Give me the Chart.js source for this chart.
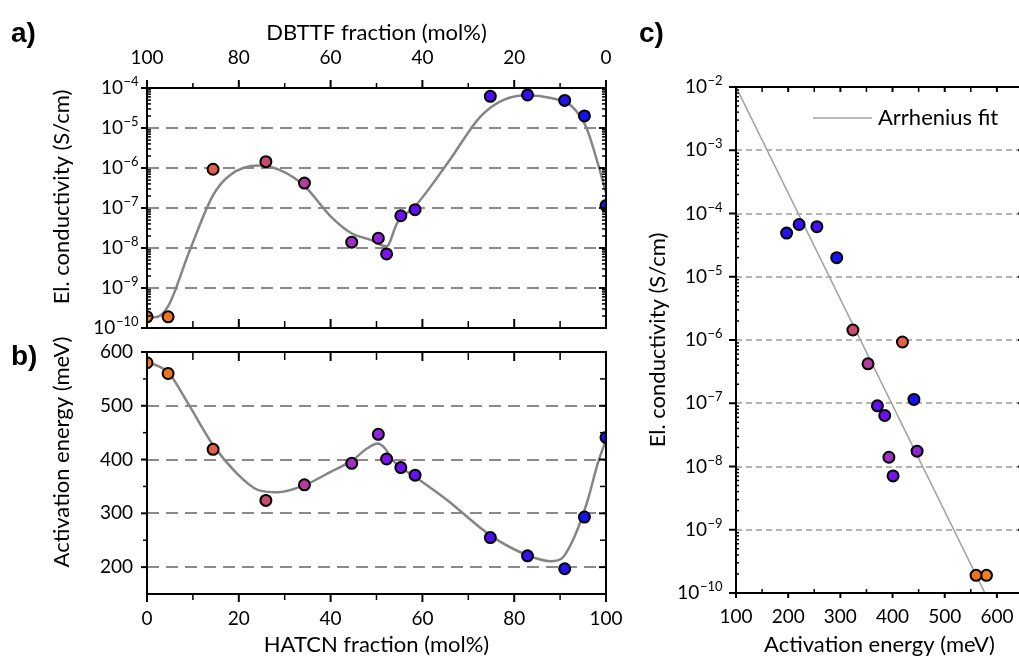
<!DOCTYPE html>
<html>
<head>
<meta charset="utf-8">
<script src="https://cdn.jsdelivr.net/npm/chart.js@4.4.1/dist/chart.umd.min.js"></script>
<style>
html,body{margin:0;padding:0;background:#fff;overflow:hidden;width:1019px;height:662px;position:relative}
canvas{position:absolute}
.lab{position:absolute;font:bold 28px "Liberation Sans",Arial,sans-serif;line-height:28px;color:#000}
</style>
</head>
<body>
<canvas id="ca" width="640" height="340" style="left:0;top:0"></canvas>
<canvas id="cb" width="640" height="372" style="left:0;top:290px"></canvas>
<canvas id="cc" width="400" height="662" style="left:640px;top:0"></canvas>
<div class="lab" style="left:11px;top:19px">a)</div>
<div class="lab" style="left:11px;top:342px">b)</div>
<div class="lab" style="left:639px;top:19px">c)</div>
<script>
// ---------------- data ----------------
const hatcnFraction = [0, 4.6, 14.4, 25.9, 34.3, 44.6, 50.4, 52.2, 55.3, 58.4, 74.8, 82.9, 91.0, 95.3, 100];
const conductivity = [1.9e-10, 1.9e-10, 9.3e-7, 1.44e-6, 4.2e-7, 1.4e-8, 1.75e-8, 7.1e-9, 6.4e-8, 9.1e-8, 6.2e-5, 6.7e-5, 4.9e-5, 2.0e-5, 1.15e-7];
const activationEnergy = [580, 560, 419, 324, 353, 393, 447, 401, 385, 371, 255, 221, 197, 293, 441];

// smooth guide curves
const curveAx = [0, 1.8, 4.6, 9.1, 14.4, 18.2, 24.4, 29.1, 34.25, 40, 44.65, 48.7, 52.2, 54.5, 58.4, 65.5, 72.7, 77.8, 82.9, 88, 92.4, 95.6, 98.2, 100];
const curveAy = [1.9e-10, 1.85e-10, 3.5e-10, 7.5e-9, 2.1e-7, 6.8e-7, 1.15e-6, 8.7e-7, 3.6e-7, 6.2e-8, 2.3e-8, 1.6e-8, 1.1e-8, 4.2e-8, 1.1e-7, 1.33e-6, 1.95e-5, 5.1e-5, 6.6e-5, 5.6e-5, 3.6e-5, 1.1e-5, 1.33e-6, 2.4e-7];
const curveBx = [0, 4.6, 9.1, 14.4, 19.6, 24, 28.4, 34.25, 40, 44.65, 48, 50.2, 51.6, 53.8, 58.4, 65.5, 74.8, 82.9, 88, 90.2, 93.1, 96, 98.2, 100];
const curveBy = [582, 562, 502, 427, 374, 344, 339, 352, 377, 398, 421, 430, 423, 396, 368, 324, 259, 222, 211, 215, 256, 324, 393, 436];

// Arrhenius fit line (panel c)
const fitEnergy = [100, 577];
const fitConductivity = [1e-2, 1e-10];

// tick labels
const hatcnTicks = [0, 20, 40, 60, 80, 100];
const dbttfTicks = [100, 80, 60, 40, 20, 0];
const condTicksA = [1e-10, 1e-9, 1e-8, 1e-7, 1e-6, 1e-5, 1e-4];
const eaTicksB = [200, 300, 400, 500, 600];
const condTicksC = [1e-10, 1e-9, 1e-8, 1e-7, 1e-6, 1e-5, 1e-4, 1e-3, 1e-2];
const eaTicksC = [100, 200, 300, 400, 500, 600];

// styles
const pointColors = ['#f28022', '#f07420', '#e0604a', '#c84a6e', '#b43c9c', '#a030c0', '#9024d6', '#7e12ec', '#7010f0', '#6410f0', '#4a10f2', '#3410f2', '#2212f0', '#1414f0', '#1414f0'];
const FONT = 'Lato, "Open Sans", sans-serif';

// ---------------- helpers ----------------
function logMinors(lo, hi) {
  const out = [];
  for (let e = lo; e < hi; e++) for (let k = 2; k <= 9; k++) out.push(k * Math.pow(10, e));
  return out;
}
function pts(xs, ys) { return xs.map((x, i) => ({x: x, y: ys[i]})); }

const framePlugin = {
  id: 'frame',
  beforeDatasetsDraw(chart, args, o) {
    const ctx = chart.ctx, a = chart.chartArea;
    ctx.save();
    (o.grids || []).forEach(g => {
      const s = chart.scales[g.scale];
      ctx.strokeStyle = g.color; ctx.lineWidth = g.width; ctx.setLineDash(g.dash);
      g.values.forEach(v => {
        const p = Math.round(s.getPixelForValue(v));
        ctx.beginPath();
        if (s.isHorizontal()) { ctx.moveTo(p, a.top); ctx.lineTo(p, a.bottom); }
        else { ctx.moveTo(a.left, p); ctx.lineTo(a.right, p); }
        ctx.stroke();
      });
    });
    ctx.restore();
  },
  afterDatasetsDraw(chart, args, o) {
    const ctx = chart.ctx, a = chart.chartArea;
    ctx.save();
    ctx.setLineDash([]);
    ctx.strokeStyle = '#000';
    (o.ticks || []).forEach(t => {
      const s = chart.scales[t.scale];
      const draw = (vals, len, lw) => vals.forEach(v => {
        const p = s.getPixelForValue(v);
        ctx.lineWidth = lw;
        ctx.beginPath();
        if (t.side === 'top') { ctx.moveTo(p, a.top); ctx.lineTo(p, a.top - len); }
        else if (t.side === 'bottom') { ctx.moveTo(p, a.bottom); ctx.lineTo(p, a.bottom + len); }
        else if (t.side === 'left') { ctx.moveTo(a.left, p); ctx.lineTo(a.left - len, p); }
        else { ctx.moveTo(a.right, p); ctx.lineTo(a.right + len, p); }
        ctx.stroke();
      });
      draw(t.major, t.majorLen, 2);
      draw(t.minor || [], t.minorLen, 1.5);
    });
    ctx.lineWidth = 2;
    ctx.strokeRect(a.left, a.top, a.right - a.left, a.bottom - a.top);
    // superscript log labels
    ctx.fillStyle = '#000';
    ctx.textBaseline = 'middle';
    ctx.textAlign = 'left';
    (o.supLabels || []).forEach(L => {
      const s = chart.scales[L.scale];
      L.values.forEach(v => {
        const e = Math.round(Math.log10(v));
        const y = s.getPixelForValue(v);
        const ex = (e < 0 ? '\u2212' : '') + Math.abs(e);
        ctx.font = L.font; const w1 = ctx.measureText('10').width;
        ctx.font = L.supFont; const w2 = ctx.measureText(ex).width;
        const x0 = L.right - w1 - w2;
        ctx.font = L.font; ctx.fillText('10', x0, y);
        ctx.font = L.supFont; ctx.fillText(ex, x0 + w1 + 0.5, y - L.raise);
      });
    });
    // free axis titles
    (o.titles || []).forEach(T => {
      ctx.save();
      ctx.font = T.font; ctx.textAlign = 'center'; ctx.textBaseline = 'middle';
      ctx.translate(T.x, T.y); ctx.rotate(T.rot || 0);
      ctx.fillText(T.text, 0, 0);
      ctx.restore();
    });
    // legend
    if (o.legend) {
      const L = o.legend;
      const ds = chart.data.datasets[L.dataset];
      ctx.strokeStyle = ds.borderColor; ctx.lineWidth = ds.borderWidth;
      ctx.beginPath(); ctx.moveTo(L.x, L.y); ctx.lineTo(L.x + L.len, L.y); ctx.stroke();
      ctx.font = L.font; ctx.textAlign = 'left'; ctx.textBaseline = 'middle';
      ctx.fillText(ds.label, L.x + L.len + L.gap, L.y);
    }
    ctx.restore();
  }
};

const noGrid = {display: false, drawTicks: false, tickLength: 0};
const tickFont = {family: FONT, size: 19};
const titleFont = {family: FONT, size: 22};
function fixH(h) { return s => { s.height = h; s.paddingLeft = 0; s.paddingRight = 0; }; }
function fixW(w) { return s => { s.width = w; s.paddingTop = 0; s.paddingBottom = 0; }; }
function setTicks(arr) { return s => { s.ticks = arr.map(v => ({value: v})); }; }

Chart.defaults.font.family = FONT;
Chart.defaults.color = '#000';

// ---------------- panel a ----------------
new Chart(document.getElementById('ca'), {
  data: {
    datasets: [
      {type: 'scatter', label: 'conductivity', data: pts(hatcnFraction, conductivity),
       pointBackgroundColor: pointColors, pointBorderColor: '#000', pointBorderWidth: 2, pointRadius: 5.5},
      {type: 'line', label: 'guide', data: pts(curveAx, curveAy), borderColor: '#858585', borderWidth: 2.5,
       pointRadius: 0, cubicInterpolationMode: 'monotone', fill: false}
    ]
  },
  options: {
    responsive: false, animation: false, devicePixelRatio: 1,
    layout: {padding: {left: 0, right: 34, top: 0, bottom: 12}},
    plugins: {
      legend: {display: false}, tooltip: {enabled: false},
      frame: {
        grids: [{scale: 'y', values: [1e-9, 1e-8, 1e-7, 1e-6, 1e-5], color: '#8a8a8a', width: 2, dash: [12, 7]}],
        ticks: [
          {scale: 'x2', side: 'top', major: dbttfTicks, majorLen: 8, minor: [10, 30, 50, 70, 90], minorLen: 5},
          {scale: 'x', side: 'bottom', major: hatcnTicks, majorLen: -9, minor: [10, 30, 50, 70, 90], minorLen: -7},
          {scale: 'y', side: 'left', major: condTicksA, majorLen: 6, minor: logMinors(-10, -4), minorLen: -4},
          {scale: 'y', side: 'right', major: condTicksA, majorLen: -7, minor: logMinors(-10, -4), minorLen: -4}
        ],
        supLabels: [{scale: 'y', values: condTicksA, right: 138, font: '19px ' + FONT, supFont: '13px ' + FONT, raise: 6}],
        titles: [{text: 'El. conductivity (S/cm)', x: 62, y: 197, rot: -Math.PI / 2, font: '22px ' + FONT}]
      }
    },
    scales: {
      x: {type: 'linear', position: 'bottom', min: 0, max: 100, display: false},
      x2: {type: 'linear', position: 'top', min: 0, max: 100, reverse: true,
           afterBuildTicks: setTicks(dbttfTicks), afterFit: fixH(88),
           grid: noGrid, border: {display: false},
           ticks: {font: tickFont, color: '#000', padding: 19, maxRotation: 0, autoSkip: false},
           title: {display: true, text: 'DBTTF fraction (mol%)', font: titleFont, color: '#000', padding: {top: 20, bottom: 0}}},
      y: {type: 'logarithmic', position: 'left', min: 1e-10, max: 1e-4,
          afterBuildTicks: setTicks(condTicksA), afterFit: fixW(147),
          grid: noGrid, border: {display: false}, ticks: {display: false}}
    }
  },
  plugins: [framePlugin]
});

// ---------------- panel b ----------------
new Chart(document.getElementById('cb'), {
  data: {
    datasets: [
      {type: 'scatter', label: 'activation energy', data: pts(hatcnFraction, activationEnergy),
       pointBackgroundColor: pointColors, pointBorderColor: '#000', pointBorderWidth: 2, pointRadius: 5.5},
      {type: 'line', label: 'guide', data: pts(curveBx, curveBy), borderColor: '#858585', borderWidth: 2.5,
       pointRadius: 0, cubicInterpolationMode: 'monotone', fill: false}
    ]
  },
  options: {
    responsive: false, animation: false, devicePixelRatio: 1,
    layout: {padding: {left: 0, right: 34, top: 62, bottom: 0}},
    plugins: {
      legend: {display: false}, tooltip: {enabled: false},
      frame: {
        grids: [{scale: 'y', values: [200, 300, 400, 500], color: '#8a8a8a', width: 2, dash: [12, 7]}],
        ticks: [
          {scale: 'x', side: 'top', major: hatcnTicks, majorLen: -9, minor: [10, 30, 50, 70, 90], minorLen: -8},
          {scale: 'x', side: 'bottom', major: hatcnTicks, majorLen: 8, minor: [10, 30, 50, 70, 90], minorLen: 6},
          {scale: 'y', side: 'left', major: eaTicksB, majorLen: 6, minor: [250, 350, 450, 550], minorLen: 4},
          {scale: 'y', side: 'right', major: eaTicksB, majorLen: -7, minor: [250, 350, 450, 550], minorLen: -6}
        ],
        titles: [{text: 'Activation energy (meV)', x: 62, y: 162, rot: -Math.PI / 2, font: '22px ' + FONT}]
      }
    },
    scales: {
      x: {type: 'linear', position: 'bottom', min: 0, max: 100,
          afterBuildTicks: setTicks(hatcnTicks), afterFit: fixH(68),
          grid: noGrid, border: {display: false},
          ticks: {font: tickFont, color: '#000', padding: 13, maxRotation: 0, autoSkip: false},
          title: {display: true, text: 'HATCN fraction (mol%)', font: titleFont, color: '#000', padding: {top: 0, bottom: 4}}},
      y: {type: 'linear', position: 'left', min: 150, max: 600,
          afterBuildTicks: setTicks(eaTicksB), afterFit: fixW(147),
          grid: noGrid, border: {display: false},
          ticks: {font: tickFont, color: '#000', padding: 14, autoSkip: false}}
    }
  },
  plugins: [framePlugin]
});

// ---------------- panel c ----------------
new Chart(document.getElementById('cc'), {
  data: {
    datasets: [
      {type: 'scatter', label: 'samples', data: pts(activationEnergy, conductivity),
       pointBackgroundColor: pointColors, pointBorderColor: '#000', pointBorderWidth: 2, pointRadius: 5.5},
      {type: 'line', label: 'Arrhenius fit', data: pts(fitEnergy, fitConductivity), borderColor: '#a3a3a3', borderWidth: 1.6,
       pointRadius: 0, tension: 0, fill: false}
    ]
  },
  options: {
    responsive: false, animation: false, devicePixelRatio: 1,
    layout: {padding: {left: 0, right: 17, top: 87, bottom: 0}},
    plugins: {
      legend: {display: false}, tooltip: {enabled: false},
      frame: {
        grids: [{scale: 'y', values: [1e-9, 1e-8, 1e-7, 1e-6, 1e-5, 1e-4, 1e-3], color: '#9a9a9a', width: 1.3, dash: [6, 4]}],
        ticks: [
          {scale: 'x', side: 'top', major: eaTicksC, majorLen: -5, minor: [150, 250, 350, 450, 550, 650], minorLen: -5},
          {scale: 'x', side: 'bottom', major: eaTicksC, majorLen: 5, minor: [150, 250, 350, 450, 550, 650], minorLen: -4},
          {scale: 'y', side: 'left', major: condTicksC, majorLen: 7, minor: logMinors(-10, -2), minorLen: -3},
          {scale: 'y', side: 'right', major: condTicksC, majorLen: -5, minor: [], minorLen: 0}
        ],
        supLabels: [{scale: 'y', values: condTicksC, right: 82, font: '19px ' + FONT, supFont: '13px ' + FONT, raise: 6}],
        legend: {dataset: 1, x: 173, y: 118, len: 59, gap: 6, font: '22px ' + FONT}
      }
    },
    scales: {
      x: {type: 'linear', position: 'bottom', min: 100, max: 650,
          afterBuildTicks: setTicks(eaTicksC), afterFit: fixH(69),
          grid: noGrid, border: {display: false},
          ticks: {font: tickFont, color: '#000', padding: 12, maxRotation: 0, autoSkip: false},
          title: {display: true, text: 'Activation energy (meV)', font: titleFont, color: '#000', padding: {top: 0, bottom: 4}}},
      y: {type: 'logarithmic', position: 'left', min: 1e-10, max: 1e-2,
          afterBuildTicks: setTicks(condTicksC), afterFit: fixW(96),
          grid: noGrid, border: {display: false}, ticks: {display: false},
          title: {display: true, text: 'El. conductivity (S/cm)', font: titleFont, color: '#000', padding: {top: 5, bottom: 0}}}
    }
  },
  plugins: [framePlugin]
});
</script>
</body>
</html>
